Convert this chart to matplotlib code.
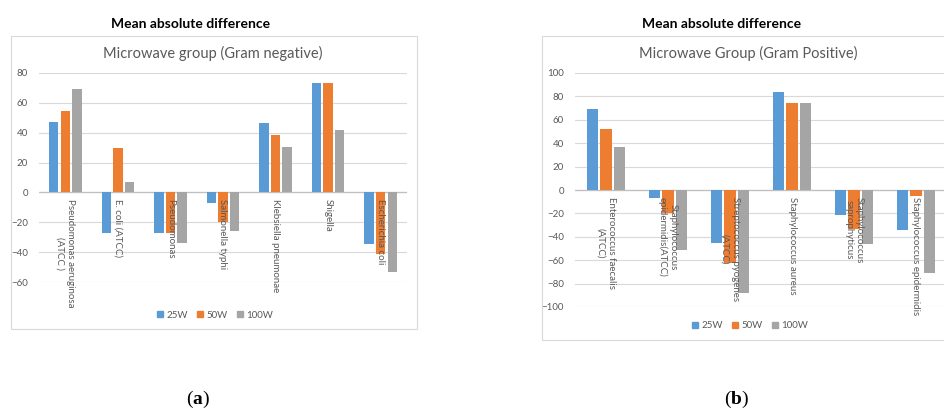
import matplotlib
matplotlib.use("Agg")
import matplotlib.pyplot as plt
from matplotlib.patches import Rectangle, Patch
import matplotlib.transforms as mtransforms
import numpy as np

# Gram negative group
neg_labels = ["Pseudomonas aeruginosa\n(ATCC )", "E. coli (ATCC)", "Pseudomonas",
              "Salmonella typhi", "Klebsiella pneumonae", "Shigella", "Escherichia coli"]
neg_25 = [47, -27, -27, -7, 46.5, 73, -34.5]
neg_50 = [54.5, 30, -27, -20, 38.5, 73, -41]
neg_100 = [69.5, 7, -34, -26, 30.5, 41.5, -53.5]

# Gram positive group
pos_labels = ["Enterococcus faecalis\n(ATCC)", "Staphylococcus\nepidermidis(ATCC)",
              "Streptococcus pyogenes\n(ATCC)", "Staphylococcus aureus",
              "Staphylococcus\nsaprophyticus", "Staphylococcus epidermidis"]
pos_25 = [69, -7, -45, 83.5, -21, -34.5]
pos_50 = [52.5, -20, -62.5, 74, -33.5, -5]
pos_100 = [37, -51, -88, 74, -46, -71]

series_names = ["25W", "50W", "100W"]
colors = ["#5B9BD5", "#ED7D31", "#A5A5A5"]

plt.rcParams['font.family'] = ['Lato', 'DejaVu Sans']
plt.rcParams['mathtext.fontset'] = 'custom'
plt.rcParams['mathtext.rm'] = 'Liberation Serif'
plt.rcParams['mathtext.bf'] = 'Liberation Serif:bold'

W, H = 944, 409
fig = plt.figure(figsize=(W / 100, H / 100), dpi=100)


def box(x0, y0, x1, y1):
    # pixel coords (top-left origin) -> figure fraction
    return [x0 / W, 1 - y1 / H, (x1 - x0) / W, (y1 - y0) / H]


def draw(ax, labels, values, ymin, ymax, step):
    x = np.arange(len(labels))
    for off, vals, c in zip([-0.22, 0, 0.22], values, colors):
        ax.bar(x + off, vals, 0.18, color=c, zorder=3)
    ax.set_xlim(-0.5, len(labels) - 0.5)
    ax.set_ylim(ymin, ymax)
    ax.set_yticks(range(ymin, ymax + 1, step))
    ax.set_xticks([])
    ax.grid(axis='y', color='#D9D9D9', lw=0.8, zorder=0)
    ax.axhline(0, color='#BFBFBF', lw=0.9, zorder=2)
    for s in ax.spines.values():
        s.set_visible(False)
    ax.tick_params(axis='y', length=0, labelsize=7, labelcolor='#595959', pad=8)
    off = mtransforms.ScaledTranslation(0, -5 / 72, fig.dpi_scale_trans)
    for i, lab in enumerate(labels):
        ax.text(i, 0, lab, rotation=270, ha='center', va='top', multialignment='center',
                fontsize=7, color='#595959', transform=ax.transData + off, zorder=4)


handles = [Patch(color=c, label=n) for c, n in zip(colors, series_names)]

# panel (a)
fig.patches.append(Rectangle((11 / W, 1 - 329 / H), 406 / W, 293 / H,
                             transform=fig.transFigure, fill=False, ec='#D9D9D9', lw=0.8))
ax1 = fig.add_axes(box(39, 73, 407, 282))
draw(ax1, neg_labels, [neg_25, neg_50, neg_100], -60, 80, 20)
fig.text(191 / W, 1 - 24 / H, "Mean absolute difference", ha='center', va='center',
         fontsize=10, fontweight='bold')
fig.text(213 / W, 1 - 53 / H, "Microwave group (Gram negative)", ha='center', va='center',
         fontsize=10.5, color='#595959')
fig.legend(handles=handles, loc='center', bbox_to_anchor=(215 / W, 1 - 315 / H), ncol=3,
           frameon=False, fontsize=7, handlelength=0.6, handleheight=0.6,
           handletextpad=0.3, columnspacing=1.0, labelcolor='#595959')
fig.text(198 / W, 1 - 399 / H, r"($\mathbf{a}$)", ha='center', va='center', fontsize=14,
         family='Liberation Serif')

# panel (b)
fig.patches.append(Rectangle((542 / W, 1 - 340 / H), 420 / W, 304 / H,
                             transform=fig.transFigure, fill=False, ec='#D9D9D9', lw=0.8))
ax2 = fig.add_axes(box(575, 73, 947, 307))
draw(ax2, pos_labels, [pos_25, pos_50, pos_100], -100, 100, 20)
fig.text(722 / W, 1 - 24 / H, "Mean absolute difference", ha='center', va='center',
         fontsize=10, fontweight='bold')
fig.text(748 / W, 1 - 53 / H, "Microwave Group (Gram Positive)", ha='center', va='center',
         fontsize=10.5, color='#595959')
fig.legend(handles=handles, loc='center', bbox_to_anchor=(750 / W, 1 - 326 / H), ncol=3,
           frameon=False, fontsize=7, handlelength=0.6, handleheight=0.6,
           handletextpad=0.3, columnspacing=1.0, labelcolor='#595959')
fig.text(737 / W, 1 - 399 / H, r"($\mathbf{b}$)", ha='center', va='center', fontsize=14,
         family='Liberation Serif')

fig.savefig("out.png", dpi=100)
